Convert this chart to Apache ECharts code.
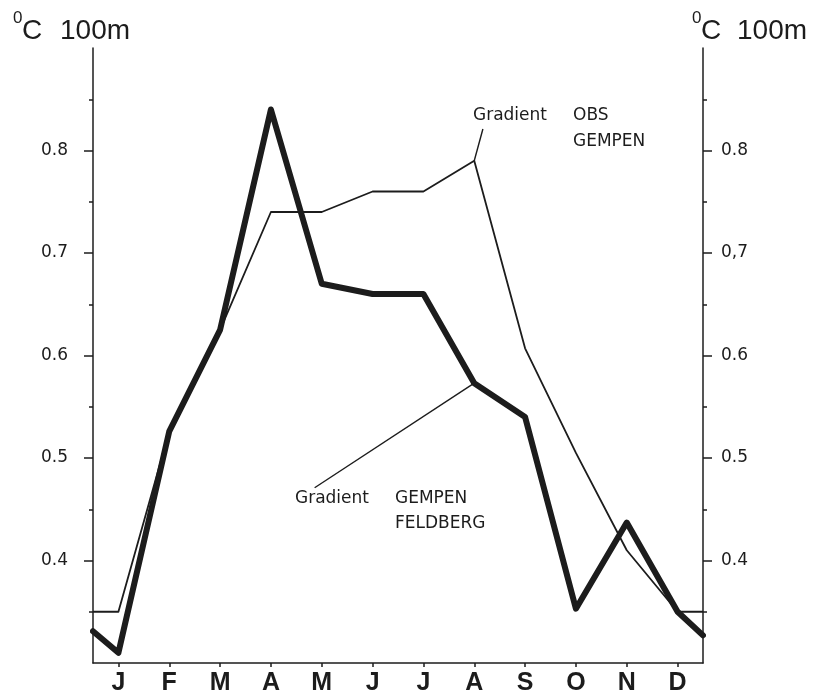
<!DOCTYPE html>
<html><head><meta charset="utf-8">
<script src="https://cdn.jsdelivr.net/npm/echarts@6/dist/echarts.min.js"></script>
<style>html,body{margin:0;padding:0;background:#fff}#c{width:818px;height:698px}</style>
</head><body><div id="c"></div>
<script>
// Data
const months = ['J','F','M','A','M','J','J','A','S','O','N','D'];
const monthPos = [1,2,3,4,5,6,7,8,9,10,11,12];
// Gradient GEMPEN - FELDBERG (thick), with values at the left and right plot edges
const gempenFeldberg = [0.31,0.526,0.625,0.84,0.67,0.66,0.66,0.573,0.54,0.353,0.437,0.35];
const gempenFeldbergEdges = [0.331,0.327];
// Gradient OBS - GEMPEN (thin)
const obsGempen = [0.35,0.526,0.625,0.74,0.74,0.76,0.76,0.79,0.607,0.505,0.41,0.35];
const obsGempenEdges = [0.35,0.35];
const yTicks = [0.4,0.5,0.6,0.7,0.8];

const X_MIN = 0.5, X_MAX = 12.5;
function build(vals, edges){
  const d = [[X_MIN, edges[0]]];
  vals.forEach((v,i)=>d.push([monthPos[i], v]));
  d.push([X_MAX, edges[1]]);
  return d;
}
const ink = '#1c1c1c';
const chart = echarts.init(document.getElementById('c'), null, {renderer:'canvas'});
const yCommon = {
  type:'value', min:0.3, max:0.9, interval:0.1,
  splitLine:{show:false},
  axisLine:{show:true, lineStyle:{color:ink, width:1.5}},
  axisTick:{show:true, customValues:yTicks, length:9, lineStyle:{color:ink,width:1.5}},
  minorTick:{show:true, splitNumber:2, length:4, lineStyle:{color:ink,width:1.5}},
};
chart.setOption({
  animation:false,
  backgroundColor:'#fff',
  grid:{left:93, right:115, top:48, bottom:35},
  xAxis:[
    {type:'category', data:months, boundaryGap:true, position:'bottom',
     axisLine:{show:true, lineStyle:{color:ink,width:1.5}},
     axisTick:{show:true, alignWithLabel:true, length:4, lineStyle:{color:ink,width:1.5}},
     axisLabel:{color:ink, fontFamily:'Liberation Sans', fontWeight:'bold', fontSize:25, margin:8},
     splitLine:{show:false}},
    {type:'value', min:X_MIN, max:X_MAX, show:false}
  ],
  yAxis:[
    Object.assign({}, yCommon, {position:'left',
      axisLabel:{color:ink, fontFamily:'DejaVu Sans', fontSize:17, margin:25, customValues:yTicks,
        formatter:v=>v.toFixed(1)}}),
    Object.assign({}, yCommon, {position:'right',
      axisLabel:{color:ink, fontFamily:'DejaVu Sans', fontSize:17, margin:18, customValues:yTicks,
        formatter:v=>{const s=v.toFixed(1); return s==='0.7'?'0,7':s;}}})
  ],
  series:[
    {type:'line', xAxisIndex:1, yAxisIndex:0, data:build(obsGempen, obsGempenEdges),
     symbol:'none', lineStyle:{color:ink, width:1.8, join:'round'},
     markLine:{silent:true, symbol:'none', label:{show:false},
       lineStyle:{color:ink, width:1.4, type:'solid'},
       data:[[{coord:[8,0.79]},{coord:[8.17,0.821]}]]}},
    {type:'line', xAxisIndex:1, yAxisIndex:0, data:build(gempenFeldberg, gempenFeldbergEdges),
     symbol:'none', lineStyle:{color:ink, width:6, join:'round', cap:'round'},
     markLine:{silent:true, symbol:'none', label:{show:false},
       lineStyle:{color:ink, width:1.4, type:'solid'},
       data:[[{coord:[8,0.573]},{coord:[4.86,0.471]}]]}}
  ],
  graphic:[
    {type:'text', left:13, top:10, style:{text:'0', font:'17px "Liberation Sans"', fill:ink}},
    {type:'text', left:22, top:17, style:{text:'C', font:'28px "Liberation Sans"', fill:ink}},
    {type:'text', left:60, top:17, style:{text:'100m', font:'28px "Liberation Sans"', fill:ink}},
    {type:'text', left:692, top:10, style:{text:'0', font:'17px "Liberation Sans"', fill:ink}},
    {type:'text', left:701, top:17, style:{text:'C', font:'28px "Liberation Sans"', fill:ink}},
    {type:'text', left:737, top:17, style:{text:'100m', font:'28px "Liberation Sans"', fill:ink}},
    {type:'text', left:473, top:107, style:{text:'Gradient', font:'17px "DejaVu Sans"', fill:ink}},
    {type:'text', left:573, top:107, style:{text:'OBS', font:'17px "DejaVu Sans"', fill:ink}},
    {type:'text', left:573, top:133, style:{text:'GEMPEN', font:'17px "DejaVu Sans"', fill:ink}},
    {type:'text', left:295, top:490, style:{text:'Gradient', font:'17px "DejaVu Sans"', fill:ink}},
    {type:'text', left:395, top:490, style:{text:'GEMPEN', font:'17px "DejaVu Sans"', fill:ink}},
    {type:'text', left:395, top:515, style:{text:'FELDBERG', font:'17px "DejaVu Sans"', fill:ink}}
  ]
});
</script></body></html>
